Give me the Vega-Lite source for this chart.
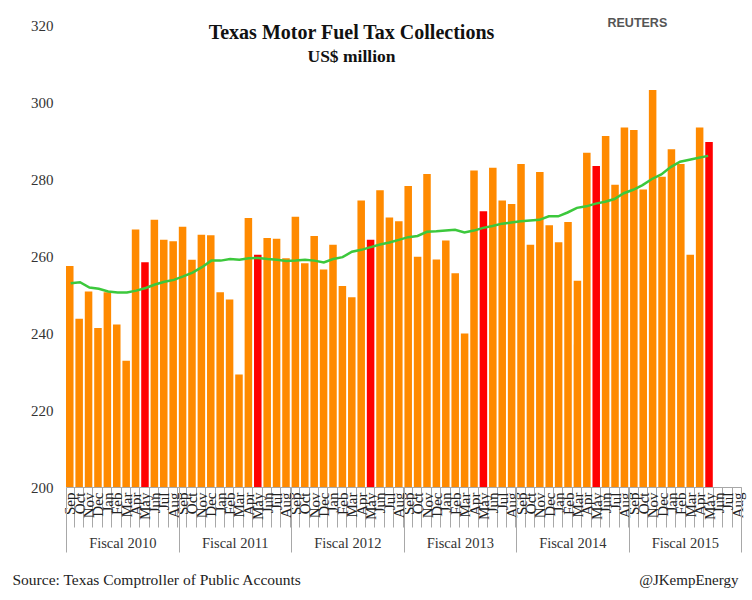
{
  "$schema": "https://vega.github.io/schema/vega-lite/v6.json",
  "width": 675,
  "height": 462,
  "autosize": {"type": "none"},
  "padding": {"left": 66, "top": 25, "right": 11, "bottom": 113},
  "background": "white",
  "title": {
    "text": "Texas Motor Fuel Tax Collections",
    "subtitle": "US$ million",
    "font": "Liberation Serif",
    "fontSize": 20,
    "fontWeight": "bold",
    "color": "#111",
    "subtitleFont": "Liberation Serif",
    "subtitleFontSize": 17.5,
    "subtitleFontWeight": "bold",
    "subtitleColor": "#111",
    "subtitlePadding": 5,
    "anchor": "middle",
    "frame": "group",
    "dx": -52,
    "offset": -49
  },
  "data": {
    "values": [
      {"d": "2009-09-15", "fy": "Fiscal 2010", "v": 257.4, "avg": 252.9},
      {"d": "2009-10-15", "fy": "Fiscal 2010", "v": 243.7, "avg": 253.2},
      {"d": "2009-11-15", "fy": "Fiscal 2010", "v": 250.8, "avg": 251.8},
      {"d": "2009-12-15", "fy": "Fiscal 2010", "v": 241.3, "avg": 251.5},
      {"d": "2010-01-15", "fy": "Fiscal 2010", "v": 250.6, "avg": 250.8},
      {"d": "2010-02-15", "fy": "Fiscal 2010", "v": 242.2, "avg": 250.5},
      {"d": "2010-03-15", "fy": "Fiscal 2010", "v": 232.8, "avg": 250.5},
      {"d": "2010-04-15", "fy": "Fiscal 2010", "v": 266.9, "avg": 251.0},
      {"d": "2010-05-15", "fy": "Fiscal 2010", "v": 258.4, "avg": 251.7},
      {"d": "2010-06-15", "fy": "Fiscal 2010", "v": 269.4, "avg": 252.6},
      {"d": "2010-07-15", "fy": "Fiscal 2010", "v": 264.2, "avg": 253.3},
      {"d": "2010-08-15", "fy": "Fiscal 2010", "v": 263.8, "avg": 253.8},
      {"d": "2010-09-15", "fy": "Fiscal 2011", "v": 267.6, "avg": 254.7},
      {"d": "2010-10-15", "fy": "Fiscal 2011", "v": 259.0, "avg": 255.7},
      {"d": "2010-11-15", "fy": "Fiscal 2011", "v": 265.5, "avg": 257.1},
      {"d": "2010-12-15", "fy": "Fiscal 2011", "v": 265.4, "avg": 258.8},
      {"d": "2011-01-15", "fy": "Fiscal 2011", "v": 250.6, "avg": 258.8},
      {"d": "2011-02-15", "fy": "Fiscal 2011", "v": 248.7, "avg": 259.2},
      {"d": "2011-03-15", "fy": "Fiscal 2011", "v": 229.2, "avg": 259.0},
      {"d": "2011-04-15", "fy": "Fiscal 2011", "v": 269.9, "avg": 259.4},
      {"d": "2011-05-15", "fy": "Fiscal 2011", "v": 260.3, "avg": 259.5},
      {"d": "2011-06-15", "fy": "Fiscal 2011", "v": 264.7, "avg": 259.2},
      {"d": "2011-07-15", "fy": "Fiscal 2011", "v": 264.5, "avg": 259.0},
      {"d": "2011-08-15", "fy": "Fiscal 2011", "v": 259.4, "avg": 258.7},
      {"d": "2011-09-15", "fy": "Fiscal 2012", "v": 270.2, "avg": 258.8},
      {"d": "2011-10-15", "fy": "Fiscal 2012", "v": 258.1, "avg": 259.0},
      {"d": "2011-11-15", "fy": "Fiscal 2012", "v": 265.2, "avg": 258.8},
      {"d": "2011-12-15", "fy": "Fiscal 2012", "v": 256.5, "avg": 258.3},
      {"d": "2012-01-15", "fy": "Fiscal 2012", "v": 262.9, "avg": 259.2},
      {"d": "2012-02-15", "fy": "Fiscal 2012", "v": 252.2, "avg": 259.7},
      {"d": "2012-03-15", "fy": "Fiscal 2012", "v": 249.3, "avg": 261.1},
      {"d": "2012-04-15", "fy": "Fiscal 2012", "v": 274.4, "avg": 261.6},
      {"d": "2012-05-15", "fy": "Fiscal 2012", "v": 264.2, "avg": 262.3},
      {"d": "2012-06-15", "fy": "Fiscal 2012", "v": 277.1, "avg": 263.0},
      {"d": "2012-07-15", "fy": "Fiscal 2012", "v": 270.0, "avg": 263.5},
      {"d": "2012-08-15", "fy": "Fiscal 2012", "v": 269.0, "avg": 264.2},
      {"d": "2012-09-15", "fy": "Fiscal 2013", "v": 278.2, "avg": 264.9},
      {"d": "2012-10-15", "fy": "Fiscal 2013", "v": 259.8, "avg": 265.2},
      {"d": "2012-11-15", "fy": "Fiscal 2013", "v": 281.3, "avg": 266.3},
      {"d": "2012-12-15", "fy": "Fiscal 2013", "v": 259.1, "avg": 266.4},
      {"d": "2013-01-15", "fy": "Fiscal 2013", "v": 264.0, "avg": 266.6},
      {"d": "2013-02-15", "fy": "Fiscal 2013", "v": 255.5, "avg": 266.8},
      {"d": "2013-03-15", "fy": "Fiscal 2013", "v": 239.9, "avg": 266.1},
      {"d": "2013-04-15", "fy": "Fiscal 2013", "v": 282.2, "avg": 266.6},
      {"d": "2013-05-15", "fy": "Fiscal 2013", "v": 271.6, "avg": 267.3},
      {"d": "2013-06-15", "fy": "Fiscal 2013", "v": 282.9, "avg": 267.8},
      {"d": "2013-07-15", "fy": "Fiscal 2013", "v": 274.4, "avg": 268.4},
      {"d": "2013-08-15", "fy": "Fiscal 2013", "v": 273.5, "avg": 268.7},
      {"d": "2013-09-15", "fy": "Fiscal 2014", "v": 283.9, "avg": 269.0},
      {"d": "2013-10-15", "fy": "Fiscal 2014", "v": 262.9, "avg": 269.2},
      {"d": "2013-11-15", "fy": "Fiscal 2014", "v": 281.8, "avg": 269.4},
      {"d": "2013-12-15", "fy": "Fiscal 2014", "v": 268.0, "avg": 270.3},
      {"d": "2014-01-15", "fy": "Fiscal 2014", "v": 263.6, "avg": 270.3},
      {"d": "2014-02-15", "fy": "Fiscal 2014", "v": 268.8, "avg": 271.3},
      {"d": "2014-03-15", "fy": "Fiscal 2014", "v": 253.6, "avg": 272.5},
      {"d": "2014-04-15", "fy": "Fiscal 2014", "v": 286.8, "avg": 272.9},
      {"d": "2014-05-15", "fy": "Fiscal 2014", "v": 283.4, "avg": 273.6},
      {"d": "2014-06-15", "fy": "Fiscal 2014", "v": 291.2, "avg": 274.1},
      {"d": "2014-07-15", "fy": "Fiscal 2014", "v": 278.5, "avg": 274.8},
      {"d": "2014-08-15", "fy": "Fiscal 2014", "v": 293.4, "avg": 276.3},
      {"d": "2014-09-15", "fy": "Fiscal 2015", "v": 292.7, "avg": 277.2},
      {"d": "2014-10-15", "fy": "Fiscal 2015", "v": 277.3, "avg": 278.4},
      {"d": "2014-11-15", "fy": "Fiscal 2015", "v": 303.1, "avg": 280.0},
      {"d": "2014-12-15", "fy": "Fiscal 2015", "v": 280.6, "avg": 281.2},
      {"d": "2015-01-15", "fy": "Fiscal 2015", "v": 287.7, "avg": 283.1},
      {"d": "2015-02-15", "fy": "Fiscal 2015", "v": 283.9, "avg": 284.5},
      {"d": "2015-03-15", "fy": "Fiscal 2015", "v": 260.3, "avg": 285.0},
      {"d": "2015-04-15", "fy": "Fiscal 2015", "v": 293.4, "avg": 285.5},
      {"d": "2015-05-15", "fy": "Fiscal 2015", "v": 289.6, "avg": 286.0},
      {"d": "2015-06-15", "fy": "Fiscal 2015", "v": null, "avg": null},
      {"d": "2015-07-15", "fy": "Fiscal 2015", "v": null, "avg": null},
      {"d": "2015-08-15", "fy": "Fiscal 2015", "v": null, "avg": null}
    ]
  },
  "layer": [
    {
      "mark": {"type": "bar", "clip": true},
      "encoding": {
        "x": {
          "field": "d", "timeUnit": "yearmonth", "type": "ordinal",
          "scale": {"paddingInner": 0.2, "paddingOuter": 0},
          "axis": {
            "orient": "bottom",
            "format": "%b",
            "title": "@JKempEnergy",
            "titleFont": "Liberation Serif", "titleFontSize": 15, "titleFontWeight": "normal",
            "titleColor": "#222", "titleAlign": "right", "titleBaseline": "middle",
            "titleX": 672, "titleY": 92,
            "labelAngle": 270, "labelFont": "Liberation Serif", "labelFontSize": 15,
            "labelColor": "#222", "labelPadding": -35, "labelOverlap": false,
            "tickBand": "extent", "tickSize": 40, "tickColor": "#a8a8a8", "tickWidth": 1,
            "domainColor": "#a8a8a8"
          }
        },
        "y": {
          "field": "v", "type": "quantitative",
          "scale": {"domain": [200, 320], "zero": false, "nice": false},
          "axis": {
            "title": "REUTERS", "titleAngle": 0, "titleFont": "Liberation Sans",
            "titleFontSize": 12.5, "titleFontWeight": "bold", "titleColor": "#555",
            "titleAlign": "left", "titleBaseline": "middle", "titleX": 541, "titleY": -3,
            "values": [200, 220, 240, 260, 280, 300, 320],
            "labelFont": "Liberation Serif", "labelFontSize": 15, "labelColor": "#333",
            "labelPadding": 13, "ticks": false, "domain": false, "grid": false
          }
        },
        "color": {
          "condition": {"test": "month(datum.d) === 4", "value": "#FF0000"},
          "value": "#FF8A00"
        }
      }
    },
    {
      "mark": {"type": "line", "color": "#3CC83C", "strokeWidth": 2.5},
      "encoding": {
        "x": {
          "field": "d", "timeUnit": "yearmonth", "type": "ordinal",
          "scale": {"paddingInner": 0.2, "paddingOuter": 0},
          "axis": null
        },
        "y": {"field": "avg", "type": "quantitative"}
      }
    },
    {
      "mark": {"type": "rule", "opacity": 0},
      "encoding": {
        "x": {
          "field": "fy", "type": "ordinal",
          "scale": {"paddingInner": 0, "paddingOuter": 0},
          "axis": {
            "orient": "bottom",
            "title": "Source: Texas Comptroller of Public Accounts",
            "titleFont": "Liberation Serif", "titleFontSize": 15.5, "titleFontWeight": "normal",
            "titleColor": "#222", "titleAlign": "left", "titleBaseline": "middle",
            "titleX": -54, "titleY": 92,
            "labelAngle": 0, "labelFont": "Liberation Serif", "labelFontSize": 14.5,
            "labelColor": "#333", "labelPadding": -16,
            "tickBand": "extent", "tickSize": 65, "tickColor": "#a8a8a8", "tickWidth": 1,
            "domain": false
          }
        }
      }
    }
  ],
  "resolve": {"scale": {"x": "independent"}},
  "config": {
    "view": {"stroke": null},
    "mark": {"invalid": "break-paths-show-domains"}
  }
}
